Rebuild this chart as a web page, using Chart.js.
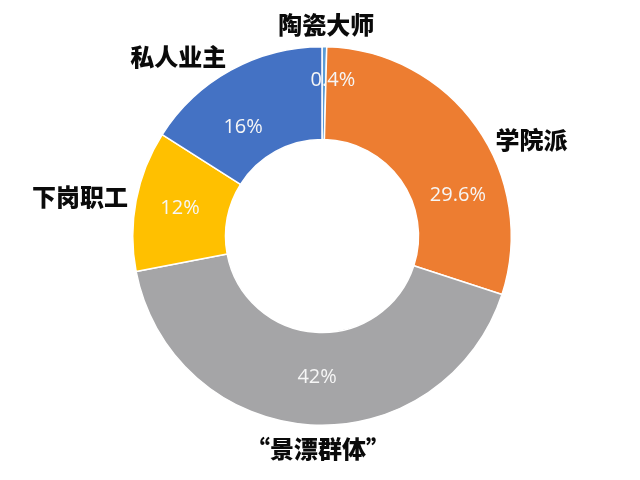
<!DOCTYPE html>
<html><head><meta charset="utf-8">
<script src="https://cdn.jsdelivr.net/npm/chart.js@4.4.1/dist/chart.umd.min.js"></script>
<style>html,body{margin:0;padding:0;background:#fff}canvas{display:block}</style>
</head><body>
<canvas id="c" width="640" height="480"></canvas>
<script>
const categories = ['陶瓷大师', '学院派', '“景漂群体”', '下岗职工', '私人业主'];
const shares = [0.4, 29.6, 42, 12, 16];
const valueLabels = ['0.4%', '29.6%', '42%', '12%', '16%'];
const colors = ['#5B9BD5', '#ED7D31', '#A5A5A7', '#FFC000', '#4472C4'];

const ringLabels = {
  id: 'ringLabels',
  afterDatasetsDraw(chart, args, opts) {
    const ctx = chart.ctx;
    const meta = chart.getDatasetMeta(0);
    meta.data.forEach((arc, i) => {
      const p = arc.getProps(['x', 'y', 'startAngle', 'endAngle', 'innerRadius', 'outerRadius'], true);
      const mid = (p.startAngle + p.endAngle) / 2;
      ctx.save();
      ctx.textAlign = 'center';
      ctx.textBaseline = 'middle';
      const vs = opts.valueShift[i];
      const va = mid + vs[0] * Math.PI / 180;
      const vr = p.innerRadius + (p.outerRadius - p.innerRadius) * vs[1];
      ctx.font = opts.valueFont;
      ctx.fillStyle = opts.valueColor;
      ctx.fillText(valueLabels[i], p.x + Math.cos(va) * vr, p.y + Math.sin(va) * vr);
      const ns = opts.nameShift[i];
      const na = mid + ns[0] * Math.PI / 180;
      const nr = p.outerRadius + ns[1];
      ctx.font = opts.nameFont;
      ctx.fillStyle = opts.nameColor;
      ctx.fillText(categories[i], p.x + Math.cos(na) * nr, p.y + Math.sin(na) * nr);
      ctx.restore();
    });
  }
};

new Chart(document.getElementById('c'), {
  type: 'doughnut',
  data: {
    labels: categories,
    datasets: [{
      data: shares,
      backgroundColor: colors,
      borderColor: '#ffffff',
      borderWidth: 1.5
    }]
  },
  options: {
    responsive: false,
    animation: false,
    cutout: '51%',
    layout: { padding: { top: 46, bottom: 54, left: 4, right: 0 } },
    plugins: {
      legend: { display: false },
      tooltip: { enabled: false },
      ringLabels: {
        valueFont: '20px "Open Sans", "DejaVu Sans", sans-serif',
        valueColor: '#f6f6f6',
        nameFont: '900 24px "Noto Sans CJK SC", sans-serif',
        nameColor: '#0a0a0a',
        valueShift: [[3.3, 0.64], [18.5, 0.49], [-1.6, 0.48], [0.4, 0.52], [-7.1, 0.41]],
        nameShift: [[0.4, 22], [10.7, 41], [-2.5, 24], [-1.6, 56], [-10, 40]]
      }
    }
  },
  plugins: [ringLabels]
});
</script>
</body></html>
